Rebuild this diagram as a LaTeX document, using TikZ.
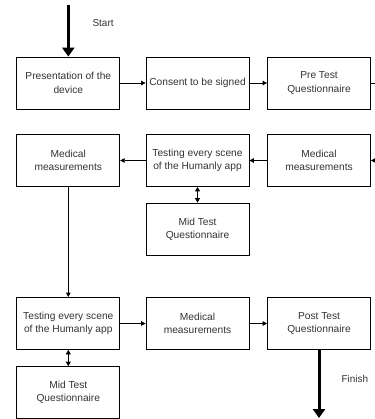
\documentclass[tikz,border=0pt]{standalone}
\usepackage{fontspec}
\setmainfont{Liberation Sans}
\usetikzlibrary{arrows.meta}
\definecolor{txt}{HTML}{333333}
\begin{document}
\begin{tikzpicture}[x=1pt,y=-1pt,
  box/.style={draw=black,line width=0.8pt,minimum width=103pt,minimum height=52pt,inner sep=1pt,align=center,font=\fontsize{10.2}{13.3}\selectfont,text=txt},
  lbl/.style={font=\fontsize{10}{13}\selectfont,text=txt},
  conn/.style={draw=black,line width=0.8pt,-{Triangle[length=4.5pt,width=4.5pt]}},
  dbl/.style={draw=black,line width=0.8pt,{Triangle[length=4.5pt,width=5pt]}-{Triangle[length=4.5pt,width=5pt]}},
  thick/.style={draw=black,line width=3pt,-{Triangle[length=9pt,width=12pt]}}]
\useasboundingbox (0,0) rectangle (374,419);
% row 1
\node[box] (a1) at (68.3,83) {Presentation of the\\device};
\node[box] (a2) at (197.5,83) {Consent to be signed};
\node[box] (a3) at (319,83) {Pre Test\\Questionnaire};
% row 2
\node[box] (b1) at (68.3,160.5) {Medical\\measurements};
\node[box] (b2) at (197.5,160.5) {Testing every scene\\of the Humanly app};
\node[box] (b3) at (319,160.5) {Medical\\measurements};
\node[box] (bm) at (197.5,229) {Mid Test\\Questionnaire};
% row 3
\node[box] (c1) at (68.3,323.5) {Testing every scene\\of the Humanly app};
\node[box] (c2) at (197.5,323.5) {Medical\\measurements};
\node[box] (c3) at (319,323.5) {Post Test\\Questionnaire};
\node[box] (cm) at (68.3,392.5) {Mid Test\\Questionnaire};
% free ends
\coordinate (s) at (68.3,5);
\coordinate (f) at (319,418);
\coordinate (r1) at (375,83);
\coordinate (r2) at (375,160.5);
% labels
\node[lbl,anchor=west] (st) at (89,23) {Start};
\node[lbl,anchor=west] (fi) at (338,379) {Finish};
% connectors
\draw[thick] (s) -- (a1.north);
\draw[conn] (a1) -- (a2);
\draw[conn] (a2) -- (a3);
\draw[line width=0.8pt] (a3.east) -- (r1);
\draw[conn] (r2) -- (b3.east);
\draw[conn] (b3) -- (b2);
\draw[conn] (b2) -- (b1);
\draw[dbl] (b2) -- (bm);
\draw[conn] (b1) -- (c1);
\draw[dbl] (c1) -- (cm);
\draw[conn] (c1) -- (c2);
\draw[conn] (c2) -- (c3);
\draw[thick] (c3.south) -- (f);
\end{tikzpicture}
\end{document}
